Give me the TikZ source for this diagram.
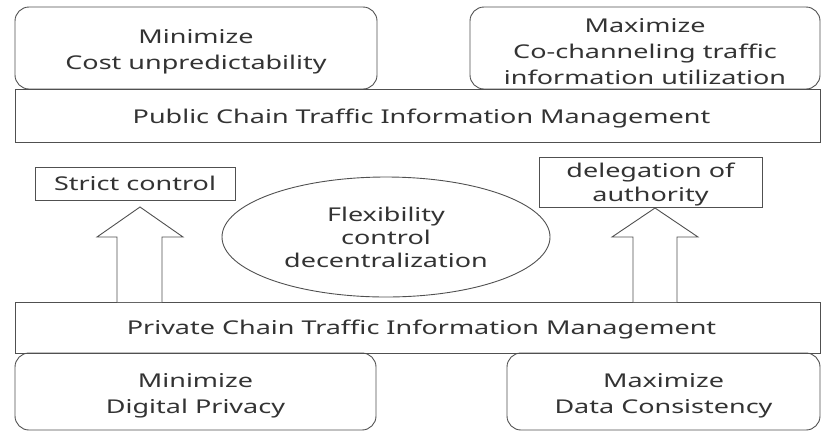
\documentclass[tikz,border=0pt]{standalone}
\usepackage{fontspec}
\setmainfont{Noto Sans}[FakeStretch=1.42]
\usetikzlibrary{shapes.geometric}
\definecolor{ln}{HTML}{505050}
\definecolor{tx}{HTML}{333333}
\tikzset{
  base/.style={draw=ln, line width=0.9pt, inner sep=0pt},
  rbox/.style={base, rounded corners=14pt},
  sbox/.style={base},
  txt/.style={text=tx, inner sep=0pt, align=center, font=\fontsize{19}{26}\selectfont},
  blockarrow/.style={draw=ln, line width=0.9pt, fill=white, line join=miter}
}
\begin{document}
\begin{tikzpicture}[x=1pt,y=-1pt]
\useasboundingbox (0,0) rectangle (821,432);
% top goals
\node[rbox, minimum width=362pt, minimum height=82pt] (tl) at (196,48) {};
\node[txt] (tlt) at ([yshift=-4pt]tl.center) {Minimize\\Cost unpredictability};
\node[rbox, minimum width=350pt, minimum height=82pt] (tr) at (645,48) {};
\node[txt] (trt) at ([yshift=-4pt]tr.center) {Maximize\\Co-channeling traffic\\information utilization};
% public chain
\node[sbox, minimum width=805pt, minimum height=53pt] (pub) at (417.5,115.5) {};
\node[txt] (pubt) at ([xshift=4pt,yshift=-3pt]pub.center) {Public Chain Traffic Information Management};
% middle
\node[sbox, minimum width=200pt, minimum height=33pt] (strict) at (135,183.5) {};
\node[txt] (strictt) at (strict.center) {Strict control};
\node[sbox, minimum width=223pt, minimum height=50pt] (deleg) at (650.5,182) {};
\node[txt, font=\fontsize{19}{24}\selectfont] (delegt) at ([yshift=-3pt]deleg.center) {delegation of\\authority};
\node[base, ellipse, minimum width=328pt, minimum height=120pt] (flex) at (386,237) {};
\node[txt, font=\fontsize{19}{23}\selectfont] (flext) at (flex.center) {Flexibility\\control\\decentralization};
% private chain
\node[sbox, minimum width=805pt, minimum height=51pt] (priv) at (417.5,327.5) {};
\node[txt] (privt) at ([xshift=4pt,yshift=-2pt]priv.center) {Private Chain Traffic Information Management};
% bottom goals
\node[rbox, minimum width=361pt, minimum height=77pt] (bl) at (195.5,391.5) {};
\node[txt] (blt) at ([yshift=-4pt]bl.center) {Minimize\\Digital Privacy};
\node[rbox, minimum width=313pt, minimum height=77pt] (br) at (663.5,391.5) {};
\node[txt] (brt) at ([yshift=-4pt]br.center) {Maximize\\Data Consistency};
% block arrows
\draw[blockarrow] (117,302) -- (117,237) -- (97,237) -- (140,207) -- (183,237) -- (162,237) -- (162,302);
\draw[blockarrow] (633,302) -- (633,237) -- (612,237) -- (655,208) -- (698,237) -- (677,237) -- (677,302);
\end{tikzpicture}
\end{document}
